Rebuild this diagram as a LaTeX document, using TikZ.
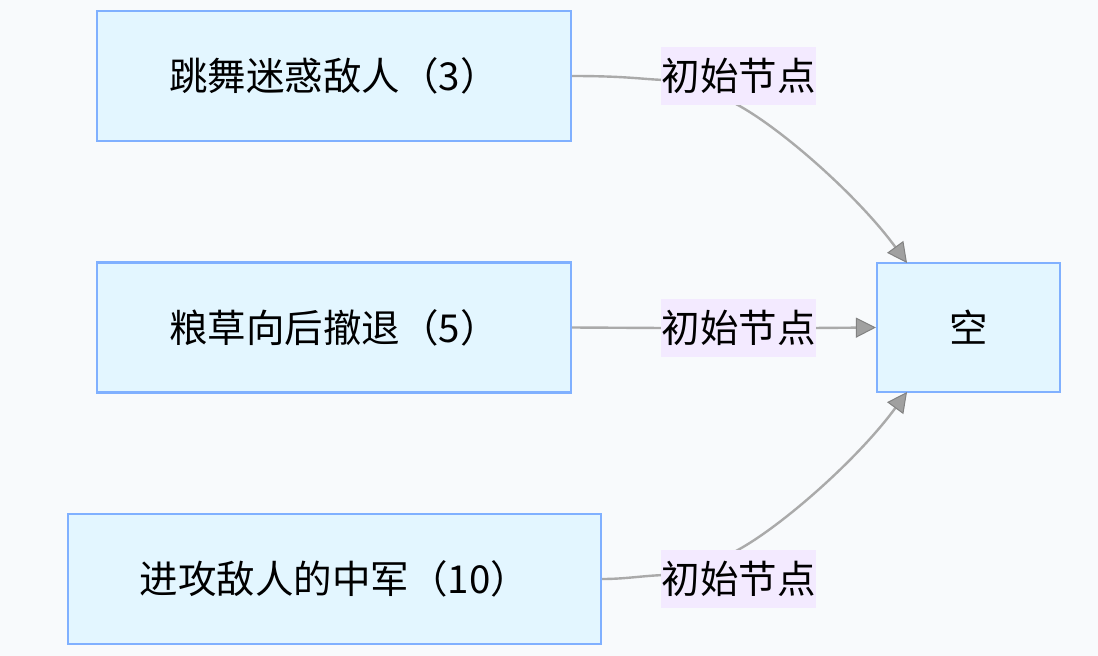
\documentclass[tikz,border=0pt]{standalone}
\usepackage{fontspec}
\newfontfamily\cjk{Noto Sans CJK SC}
\usetikzlibrary{arrows.meta}
\definecolor{bgc}{RGB}{248,250,252}
\definecolor{boxfill}{RGB}{227,246,255}
\definecolor{boxline}{RGB}{128,176,255}
\definecolor{lblfill}{RGB}{243,234,255}
\definecolor{edgec}{RGB}{170,170,170}
\definecolor{tipfill}{RGB}{160,160,160}
\definecolor{tipline}{RGB}{130,130,130}
\begin{document}
\begin{tikzpicture}[x=1pt,y=-1pt,
  box/.style={draw=boxline,fill=boxfill,line width=2.2pt,inner sep=0pt,minimum height=130pt,
    font=\cjk\fontsize{38.5}{46}\selectfont},
  lbl/.style={fill=lblfill,inner sep=0pt,minimum width=155pt,minimum height=58pt,
    font=\cjk\fontsize{38.5}{46}\selectfont},
  edge/.style={draw=edgec,line width=2.4pt},
  tip/.style={-{Triangle[length=20pt,width=20pt,fill=tipfill,color=tipline,line width=1pt]}}]
\fill[bgc] (0,0) rectangle (1098,656);
\useasboundingbox (0,0) rectangle (1098,656);
\node[box,minimum width=474pt] (A) at (334,76) {跳舞迷惑敌人（3）};
\node[box,minimum width=474pt] (B) at (334,327.5) {粮草向后撤退（5）};
\node[box,minimum width=533pt] (C) at (334.5,579) {进攻敌人的中军（10）};
\node[box,minimum width=183pt,minimum height=129pt] (D) at (968.5,327.5) {空};
\coordinate (Dt) at (907,263);
\coordinate (Db) at (907,392);
% edges
\draw[edge] (A.east) .. controls (625,76) and (640,79) .. (664,80);
\draw[edge,tip] (736,104) .. controls (781,128) and (858,196) .. (Dt);
\draw[edge] (B.east) -- (664,328);
\draw[edge,tip] (812,328) -- (D.west);
\draw[edge] (C.east) .. controls (625,579) and (640,576) .. (664,575);
\draw[edge,tip] (736,551) .. controls (781,527) and (858,459) .. (Db);
% labels
\node[lbl] (L1) at (738.5,76) {初始节点};
\node[lbl] (L2) at (738.5,328) {初始节点};
\node[lbl] (L3) at (738.5,579) {初始节点};
\end{tikzpicture}
\end{document}
